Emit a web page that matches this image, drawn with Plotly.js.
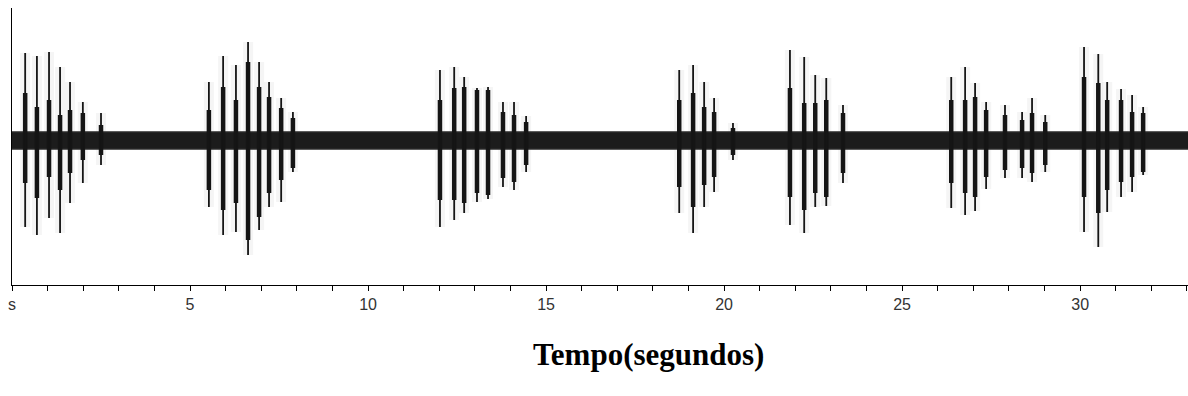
<!DOCTYPE html>
<html>
<head>
<meta charset="utf-8">
<script src="https://cdn.plot.ly/plotly-3.0.1.min.js"></script>
<style>
  html, body { margin: 0; padding: 0; background: #fff; }
  #chart { width: 1188px; height: 396px; }
</style>
</head>
<body>
<div id="chart"></div>
<script>
// ---- Data (time in s, amplitude in arbitrary units) ----
const pulseTimes = [0.37, 0.70, 1.04, 1.35, 1.63, 1.99, 2.50,
                    5.53, 5.93, 6.29, 6.63, 6.94, 7.22, 7.56, 7.89,
                    12.02, 12.42, 12.70, 13.06, 13.37, 13.79, 14.10, 14.44,
                    18.74, 19.13, 19.44, 19.72, 20.25,
                    21.85, 22.25, 22.56, 22.87, 23.34,
                    26.38, 26.77, 27.05, 27.36, 27.89, 28.37, 28.65, 29.02,
                    30.11, 30.51, 30.76, 31.15, 31.46, 31.77];
const spikeUp   = [87, 84, 88, 73, 58, 38, 27,
                   58, 84, 75, 98, 78, 58, 42, 28,
                   70, 73, 63, 52, 53, 38, 38, 24,
                   70, 75, 58, 42, 17,
                   90, 83, 65, 62, 35,
                   63, 73, 57, 38, 35, 28, 42, 25,
                   93, 86, 58, 51, 45, 33];
const spikeDown = [-87, -95, -78, -93, -63, -43, -25,
                   -67, -95, -92, -115, -90, -67, -62, -32,
                   -87, -80, -73, -62, -59, -47, -50, -32,
                   -73, -93, -67, -52, -20,
                   -85, -93, -67, -66, -43,
                   -68, -75, -71, -49, -38, -38, -42, -32,
                   -92, -107, -72, -57, -52, -35];
const bodyUp    = [47, 33, 40, 25, 30, 27, 15,
                   30, 53, 40, 78, 53, 43, 32, 22,
                   40, 52, 53, 50, 50, 28, 25, 18,
                   40, 47, 33, 28, 12,
                   52, 37, 37, 40, 27,
                   40, 40, 43, 30, 25, 20, 27, 18,
                   63, 57, 40, 40, 28, 27];
const bodyDown  = [-43, -58, -37, -50, -33, -20, -15,
                   -50, -70, -63, -100, -77, -53, -40, -28,
                   -60, -60, -63, -53, -55, -38, -42, -25,
                   -47, -67, -45, -37, -15,
                   -57, -70, -53, -57, -33,
                   -43, -53, -57, -37, -30, -28, -33, -25,
                   -57, -73, -50, -42, -37, -32];
// background noise envelope of the recording
const noiseTimes = [0, 33.05];
const noiseUpper = [8, 8];
const noiseLower = [-9, -9];
// axis ticks
const tickValues = [0,1,2,3,4,5,6,7,8,9,10,11,12,13,14,15,16,17,18,19,20,21,22,23,24,25,26,27,28,29,30,31,32,33];
const tickLabels = ['s','','','','','5','','','','','10','','','','','15','','','','','20','','','','','25','','','','','30','','',''];
const xTitle = 'Tempo(segundos)';

// ---- Build segment traces ----
function segments(lo, hi) {
  const xs = [], ys = [];
  for (let i = 0; i < pulseTimes.length; i++) {
    xs.push(pulseTimes[i], pulseTimes[i], null);
    ys.push(lo[i], hi[i], null);
  }
  return {x: xs, y: ys};
}
const spikes = segments(spikeDown, spikeUp);
const bodies = segments(bodyDown, bodyUp);

const traces = [
  { // faint halo around pulses
    x: spikes.x, y: spikes.y, mode: 'lines', type: 'scatter',
    line: {color: 'rgba(200,200,200,0.18)', width: 10}, hoverinfo: 'skip', showlegend: false
  },
  {
    x: [noiseTimes[0], noiseTimes[1], noiseTimes[1], noiseTimes[0]],
    y: [noiseUpper[0], noiseUpper[1], noiseLower[1], noiseLower[0]],
    mode: 'lines', type: 'scatter', fill: 'toself', fillcolor: '#1c1c1c',
    line: {color: '#2a2a2a', width: 1.5}, hoverinfo: 'skip', showlegend: false
  },
  {
    x: bodies.x, y: bodies.y, mode: 'lines', type: 'scatter',
    line: {color: '#151515', width: 4.5}, hoverinfo: 'skip', showlegend: false
  },
  {
    x: spikes.x, y: spikes.y, mode: 'lines', type: 'scatter',
    line: {color: '#151515', width: 1.8}, hoverinfo: 'skip', showlegend: false
  }
];

const layout = {
  width: 1188, height: 396,
  margin: {l: 12, r: 0, t: 8, b: 111, pad: 0},
  paper_bgcolor: '#ffffff', plot_bgcolor: '#ffffff',
  showlegend: false,
  xaxis: {
    range: [0, 33.03], showgrid: false, zeroline: false,
    showline: true, linecolor: '#000', linewidth: 1,
    ticks: 'outside', ticklen: 5, tickwidth: 1, tickcolor: '#000',
    tickmode: 'array', tickvals: tickValues, ticktext: tickLabels,
    tickfont: {family: 'Liberation Sans, Arial, sans-serif', size: 16, color: '#333'},
    fixedrange: true
  },
  yaxis: {
    range: [-145, 132], showgrid: false, zeroline: false,
    showline: true, linecolor: '#000', linewidth: 1,
    showticklabels: false, ticks: '', fixedrange: true
  },
  annotations: [{
    text: '<b>' + xTitle + '</b>', xref: 'paper', yref: 'paper',
    x: 0.541, y: -0.252, xanchor: 'center', yanchor: 'middle', showarrow: false,
    font: {family: 'Liberation Serif, Times New Roman, serif', size: 31, color: '#000'}
  }]
};

Plotly.newPlot('chart', traces, layout, {displayModeBar: false, staticPlot: true});
</script>
</body>
</html>
